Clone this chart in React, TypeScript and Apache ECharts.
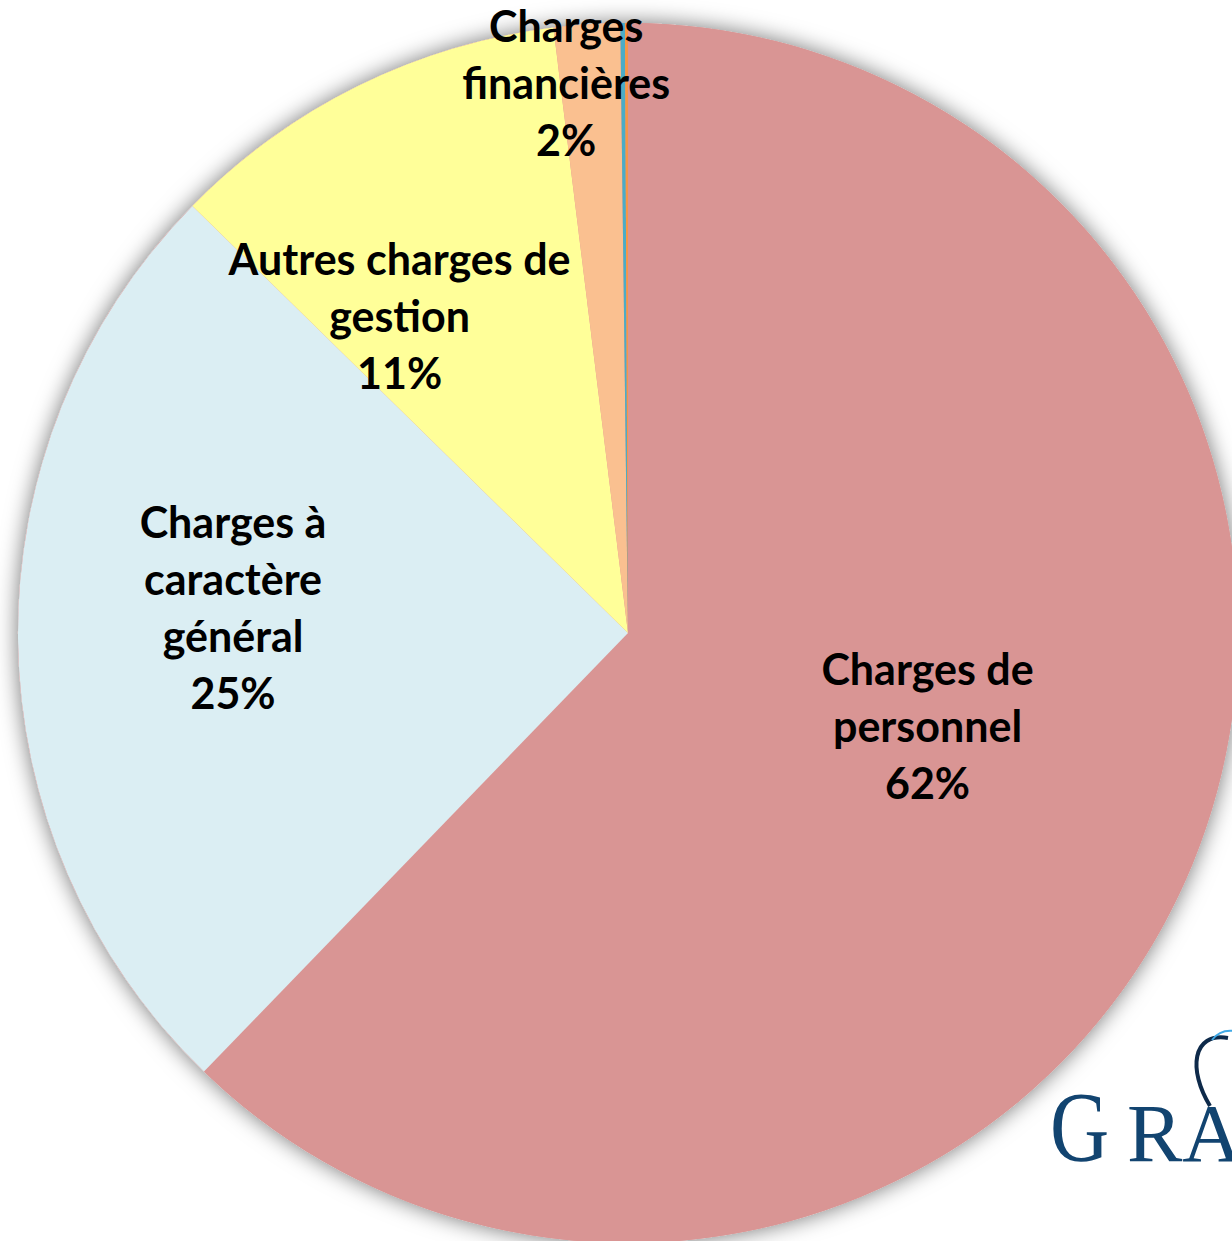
import React, { useEffect, useRef } from "react";
import * as echarts from "echarts";

const categories = [
  "Charges de\npersonnel",
  "Charges à\ncaractère\ngénéral",
  "Autres charges de\ngestion",
  "Charges\nfinancières",
  "Charges exceptionnelles",
  "Dotations",
];
const values = [62.2, 25.1, 10.7, 1.75, 0.12, 0.08];
const colors = ["#D99594", "#DBEEF3", "#FFFF99", "#FAC090", "#4BACC6", "#F79646"];
const showLabel = [true, true, true, true, false, false];
const labelShift = [
  [14, -23],
  [-87, -30],
  [-92, -41],
  [-41, -243],
  [0, 0],
  [0, 0],
];

export default function App() {
  const ref = useRef<HTMLDivElement>(null);
  useEffect(() => {
    document.body.style.margin = "0";
    const chart = echarts.init(ref.current!, null, { renderer: "svg" });
    const center = [628, 633];
    const radius = 610;
    const logoColor = "#124470";
    chart.setOption({
      animation: false,
      backgroundColor: "#ffffff",
      series: [
        {
          type: "pie",
          silent: true,
          center,
          radius,
          startAngle: 90,
          label: { show: false },
          labelLine: { show: false },
          itemStyle: {
            color: "#D99594",
            shadowBlur: 22,
            shadowColor: "rgba(0,0,0,0.55)",
            shadowOffsetX: 0,
            shadowOffsetY: 0,
          },
          data: [{ value: 1, name: "" }],
          z: 1,
        },
        {
          type: "pie",
          center,
          radius,
          startAngle: 90,
          clockwise: true,
          z: 2,
          itemStyle: { borderWidth: 0 },
          labelLine: { show: false },
          label: {
            position: "inside",
            fontFamily: "Lato",
            fontWeight: "bold",
            fontSize: 43,
            lineHeight: 57,
            color: "#000000",
            align: "center",
            formatter: (p: any) => `${p.name}\n${Math.round(p.percent)}%`,
          },
          labelLayout: (params: any) => {
            const s = labelShift[params.dataIndex] || [0, 0];
            return { dx: s[0], dy: s[1] };
          },
          data: categories.map((name, i) => ({
            name,
            value: values[i],
            itemStyle: { color: colors[i] },
            label: { show: showLabel[i] },
          })),
        },
      ],
      graphic: [
        {
          type: "text",
          x: 1050,
          y: 1127,
          scaleX: 0.82,
          style: {
            text: "G",
            font: '100px "Liberation Serif"',
            fill: logoColor,
            verticalAlign: "middle",
          },
        },
        {
          type: "text",
          x: 1127,
          y: 1133,
          style: {
            text: "RA",
            font: '83px "Liberation Serif"',
            fill: logoColor,
            verticalAlign: "middle",
          },
        },
        {
          type: "bezierCurve",
          shape: {
            x1: 1210,
            y1: 1106,
            cpx1: 1188,
            cpy1: 1070,
            cpx2: 1192,
            cpy2: 1032,
            x2: 1228,
            y2: 1038,
          },
          style: { stroke: "#0E2A4A", lineWidth: 4, fill: null },
        },
        {
          type: "bezierCurve",
          shape: {
            x1: 1212,
            y1: 1040,
            cpx1: 1218,
            cpy1: 1032,
            cpx2: 1226,
            cpy2: 1030,
            x2: 1234,
            y2: 1031,
          },
          style: { stroke: "#3FA9E6", lineWidth: 2, fill: null },
        },
      ],
    });
    return () => chart.dispose();
  }, []);
  return (
    <div
      ref={ref}
      style={{ position: "absolute", left: 0, top: 0, width: 1232, height: 1241 }}
    />
  );
}
